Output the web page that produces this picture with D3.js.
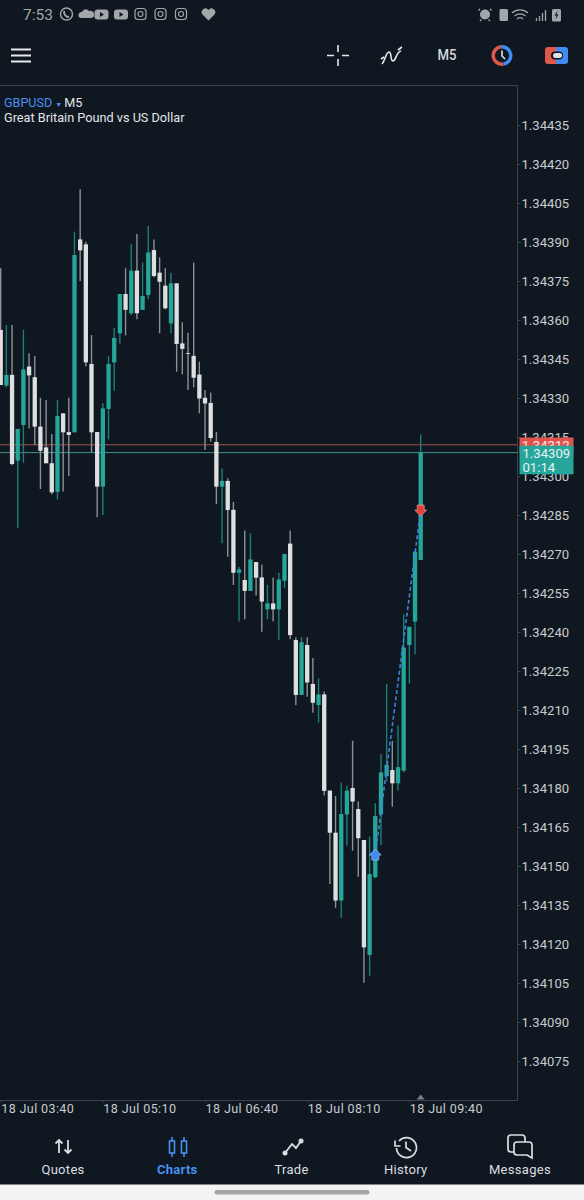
<!DOCTYPE html>
<html>
<head>
<meta charset="utf-8">
<script src="https://cdn.jsdelivr.net/npm/d3@7"></script>
<style>
  html, body { margin: 0; padding: 0; background: #0f1720; }
  svg { display: block; font-family: Roboto, sans-serif; }
</style>
</head>
<body>
<div id="chart"></div>
<script>
const symbol = 'GBPUSD';
const period = 'M5';
const symbolName = 'Great Britain Pound vs US Dollar';

const opens = [
  1.343562, 1.343348, 1.343389, 1.343059, 1.343196, 1.343421, 1.343380, 1.343190, 1.343110, 1.343049,
  1.342939, 1.343241, 1.343169, 1.343168, 1.343910, 1.343891, 1.343431, 1.343169, 1.342959, 1.343258,
  1.343437, 1.343549, 1.343700, 1.343626, 1.343790, 1.343639, 1.343696, 1.343869, 1.343782, 1.343732,
  1.343587, 1.343741, 1.343510, 1.343473, 1.343462, 1.343390, 1.343301, 1.343281, 1.343131, 1.342959,
  1.342981, 1.342870, 1.342628, 1.342600, 1.342558, 1.342669, 1.342610, 1.342487, 1.342510, 1.342487,
  1.342597, 1.342740, 1.342369, 1.342158, 1.342350, 1.342200, 1.342119, 1.342160, 1.341790, 1.341628,
  1.341367, 1.341698, 1.341800, 1.341719, 1.341600, 1.341158, 1.341457, 1.341698, 1.341846, 1.341869,
  1.341818, 1.341867, 1.342350, 1.342440, 1.342677
];
const closes = [
  1.343350, 1.343389, 1.343046, 1.343181, 1.343410, 1.343387, 1.343190, 1.343097, 1.343049, 1.342937,
  1.343231, 1.343168, 1.343158, 1.343850, 1.343868, 1.343437, 1.343168, 1.342959, 1.343260, 1.343431,
  1.343531, 1.343700, 1.343639, 1.343790, 1.343626, 1.343692, 1.343860, 1.343769, 1.343747, 1.343645,
  1.343741, 1.343508, 1.343489, 1.343470, 1.343378, 1.343298, 1.343279, 1.343146, 1.342959, 1.342981,
  1.342869, 1.342628, 1.342641, 1.342558, 1.342679, 1.342609, 1.342517, 1.342510, 1.342487, 1.342602,
  1.342700, 1.342388, 1.342158, 1.342361, 1.342206, 1.342128, 1.342160, 1.341789, 1.341628, 1.341367,
  1.341700, 1.341790, 1.341748, 1.341607, 1.341187, 1.341469, 1.341692, 1.341860, 1.341889, 1.341818,
  1.341880, 1.342340, 1.342420, 1.342709, 1.343091
];
const highs = [
  1.343799, 1.343581, 1.343581, 1.343181, 1.343562, 1.343472, 1.343462, 1.343301, 1.343292, 1.343162,
  1.343292, 1.343241, 1.343301, 1.343940, 1.344103, 1.343901, 1.343542, 1.343169, 1.343280, 1.343462,
  1.343570, 1.343700, 1.343799, 1.343891, 1.343931, 1.343821, 1.343962, 1.343910, 1.343841, 1.343799,
  1.343782, 1.343741, 1.343591, 1.343551, 1.343821, 1.343440, 1.343331, 1.343321, 1.343169, 1.343029,
  1.342991, 1.342900, 1.342651, 1.342790, 1.342780, 1.342669, 1.342660, 1.342581, 1.342610, 1.342628,
  1.342700, 1.342790, 1.342380, 1.342380, 1.342380, 1.342300, 1.342222, 1.342171, 1.341790, 1.341769,
  1.341821, 1.341809, 1.341982, 1.341748, 1.341600, 1.341613, 1.341741, 1.341931, 1.342200, 1.341981,
  1.342040, 1.342468, 1.342420, 1.342709, 1.343160
];
const lows = [
  1.343350, 1.343341, 1.343041, 1.342799, 1.343051, 1.343183, 1.343119, 1.342950, 1.343049, 1.342930,
  1.342910, 1.342940, 1.343000, 1.343168, 1.343750, 1.343421, 1.343090, 1.342841, 1.342850, 1.343141,
  1.343328, 1.343510, 1.343541, 1.343619, 1.343603, 1.343639, 1.343681, 1.343764, 1.343549, 1.343641,
  1.343549, 1.343401, 1.343391, 1.343331, 1.343341, 1.343241, 1.343100, 1.343132, 1.342892, 1.342741,
  1.342689, 1.342581, 1.342440, 1.342449, 1.342558, 1.342540, 1.342401, 1.342449, 1.342440, 1.342369,
  1.342570, 1.342372, 1.342119, 1.342158, 1.342151, 1.342089, 1.342051, 1.341771, 1.341431, 1.341339,
  1.341300, 1.341578, 1.341559, 1.341459, 1.341051, 1.341078, 1.341453, 1.341581, 1.341825, 1.341728,
  1.341790, 1.341860, 1.342202, 1.342314, 1.342677
];

const priceTicks = [
  1.34435, 1.3442, 1.34405, 1.3439, 1.34375, 1.3436, 1.34345, 1.3433, 1.34315, 1.343, 1.34285, 1.3427,
  1.34255, 1.3424, 1.34225, 1.3421, 1.34195, 1.3418, 1.34165, 1.3415, 1.34135, 1.3412, 1.34105, 1.3409, 1.34075
];
const timeTickIndex = [0, 18, 36, 54, 72];
const timeLabels = ['18 Jul 03:40', '18 Jul 05:10', '18 Jul 06:40', '18 Jul 08:10', '18 Jul 09:40'];

const bidPrice = 1.34309;
const askPrice = 1.34312;
const countdown = '01:14';
const buyTrade = { index: 66, price: 1.341542 };
const sellTrade = { index: 74, price: 1.342869 };

const navLabels = ['Quotes', 'Charts', 'Trade', 'History', 'Messages'];

const colors = {
  bg: '#0f1720',
  frame: '#3a424b',
  text: '#c9cccf',
  blue: '#4a90f0',
  up: '#26a69a',
  down: '#dedfe0',
  upWick: '#1f7f77',
  downWick: '#8d9196',
  ask: '#e0534f',
  askLine: '#a5504f',
  bidLine: '#3f908a',
};

const width = 584;
const height = 1200;
const frame = { right: 517.5, top: 85.5, bottom: 1100.5 };

const svg = d3.select('#chart').append('svg').attr('width', width).attr('height', height);
svg.append('rect').attr('width', width).attr('height', height).attr('fill', colors.bg);

const x = d3.scaleLinear().domain([0, 74]).range([0.7, 420.7]);
const y = d3.scaleLinear().domain([1.34435, 1.34075]).range([125, 1061]);

// frame
svg.append('path')
  .attr('d', `M0,${frame.top}H${frame.right}V${frame.bottom}H0`)
  .attr('fill', 'none')
  .attr('stroke', colors.frame);

// price axis
const yAxis = svg.append('g')
  .attr('transform', `translate(${frame.right},0)`)
  .call(d3.axisRight(y).tickValues(priceTicks).tickSize(3).tickPadding(1).tickFormat(d3.format('.5f')));
yAxis.select('.domain').remove();
yAxis.selectAll('line').attr('stroke', colors.frame);
yAxis.selectAll('text').attr('fill', colors.text).style('font-family', 'Roboto').style('font-size', '13.1px');

// time axis
const xAxis = svg.append('g')
  .attr('transform', `translate(0,${frame.bottom})`)
  .call(d3.axisBottom(x).tickValues(timeTickIndex).tickSize(2).tickPadding(2).tickFormat((d, i) => timeLabels[i]));
xAxis.select('.domain').remove();
xAxis.selectAll('line').attr('stroke', colors.frame);
xAxis.selectAll('text')
  .attr('fill', colors.text)
  .attr('text-anchor', 'start')
  .style('font-family', 'Roboto')
  .style('font-size', '12.5px')
  .style('letter-spacing', '0.4px');

// current time marker on the bottom edge
svg.append('path')
  .attr('d', d3.line()([[x(74) - 4, frame.bottom - 1], [x(74), frame.bottom - 6], [x(74) + 4, frame.bottom - 1]]))
  .attr('fill', '#7b8086');

// bid / ask lines
svg.append('line')
  .attr('x1', 0).attr('x2', frame.right)
  .attr('y1', y(askPrice)).attr('y2', y(askPrice))
  .attr('stroke', colors.askLine);
svg.append('line')
  .attr('x1', 0).attr('x2', frame.right)
  .attr('y1', y(bidPrice)).attr('y2', y(bidPrice))
  .attr('stroke', colors.bidLine);

// candles
const candles = svg.append('g')
  .selectAll('g')
  .data(opens.map((o, i) => ({ i, o, c: closes[i], h: highs[i], l: lows[i] })))
  .enter()
  .append('g');
candles.append('line')
  .attr('x1', (d) => x(d.i)).attr('x2', (d) => x(d.i))
  .attr('y1', (d) => y(d.h)).attr('y2', (d) => y(d.l))
  .attr('stroke', (d) => (d.c > d.o ? colors.upWick : colors.downWick))
  .attr('stroke-width', 1.4);
candles.append('rect')
  .attr('x', (d) => x(d.i) - 2.15)
  .attr('width', 4.3)
  .attr('y', (d) => y(Math.max(d.o, d.c)))
  .attr('height', (d) => Math.max(0.8, Math.abs(y(d.o) - y(d.c))))
  .attr('fill', (d) => (d.c > d.o ? colors.up : colors.down));

// trade markers
svg.append('line')
  .attr('x1', x(buyTrade.index)).attr('y1', y(buyTrade.price))
  .attr('x2', x(sellTrade.index)).attr('y2', y(sellTrade.price))
  .attr('stroke', '#3b82e0')
  .attr('stroke-width', 1.6)
  .attr('stroke-dasharray', '4 2.5');
const buyX = x(buyTrade.index);
const buyY = y(buyTrade.price);
svg.append('path')
  .attr('d', `M${buyX},${buyY - 6}L${buyX + 6},${buyY}H${buyX + 3.5}V${buyY + 5}H${buyX - 3.5}V${buyY}H${buyX - 6}Z`)
  .attr('fill', '#3f8cf5').attr('stroke', '#a9cdfa').attr('stroke-width', 0.6);
const sellX = x(sellTrade.index);
const sellY = y(sellTrade.price);
svg.append('path')
  .attr('d', `M${sellX},${sellY + 6}L${sellX + 6},${sellY}H${sellX + 3.5}V${sellY - 5}H${sellX - 3.5}V${sellY}H${sellX - 6}Z`)
  .attr('fill', '#e5403d').attr('stroke', '#f2b3b0').attr('stroke-width', 0.6);

// price tags
svg.append('rect').attr('x', 519.5).attr('y', 437.5).attr('width', 54).attr('height', 16).attr('fill', colors.ask);
svg.append('text').attr('x', 522).attr('y', y(askPrice) + 5).attr('fill', '#f5e9e9')
  .style('font-size', '13.1px').text(d3.format('.5f')(askPrice));
svg.append('rect').attr('x', 519.5).attr('y', 445.7).attr('width', 54).attr('height', 28.6).attr('fill', colors.up);
svg.append('text').attr('x', 522.5).attr('y', y(bidPrice) + 5).attr('fill', '#e8f3f2')
  .style('font-size', '13.1px').text(d3.format('.5f')(bidPrice));
svg.append('text').attr('x', 522.5).attr('y', 472).attr('fill', '#e8f3f2')
  .style('font-size', '13.1px').text(countdown);

// symbol heading
const heading = svg.append('text').attr('x', 4).attr('y', 107).style('font-size', '12.6px');
heading.append('tspan').attr('fill', colors.blue).text(symbol);
heading.append('tspan').attr('fill', colors.blue).attr('dx', 3).style('font-size', '7px').text('▼');
heading.append('tspan').attr('fill', '#e4e6e8').attr('dx', 2).text(period);
svg.append('text').attr('x', 4).attr('y', 122).attr('fill', '#e4e6e8').style('font-size', '12.7px').text(symbolName);

// status bar
const statusGrey = '#a4a7aa';
svg.append('text').attr('x', 23).attr('y', 20).attr('fill', statusGrey).style('font-size', '15.5px').text('7:53');
const statusIcons = svg.append('g').attr('fill', statusGrey).attr('stroke', statusGrey);
statusIcons.append('circle').attr('cx', 66.5).attr('cy', 14).attr('r', 6).attr('fill', 'none').attr('stroke-width', 1.4);
statusIcons.append('path').attr('d', 'M64,11c0,4 2,6 5,6').attr('fill', 'none').attr('stroke-width', 1.8);
statusIcons.append('path').attr('d', 'M81,18a3,3 0 0 1 1,-6a4,4 0 0 1 7,-1a4,3.5 0 0 1 2,7Z').attr('stroke', 'none');
[101, 120.5].forEach((cx) => {
  statusIcons.append('rect').attr('x', cx - 6.5).attr('y', 9.5).attr('width', 14).attr('height', 10).attr('rx', 3).attr('stroke', 'none');
  statusIcons.append('path').attr('d', `M${cx - 1},12v5l4,-2.5Z`).attr('fill', colors.bg).attr('stroke', 'none');
});
[140.5, 160.5, 181].forEach((cx) => {
  statusIcons.append('rect').attr('x', cx - 5.5).attr('y', 8.5).attr('width', 11).attr('height', 11).attr('rx', 3).attr('fill', 'none').attr('stroke-width', 1.2);
  statusIcons.append('circle').attr('cx', cx).attr('cy', 14).attr('r', 2.5).attr('fill', 'none').attr('stroke-width', 1.1);
});
statusIcons.append('path').attr('d', 'M208.5,20.5l-6,-6a3.6,3.6 0 0 1 6,-4.5a3.6,3.6 0 0 1 6,4.5Z').attr('stroke', 'none');

// alarm, saver, wifi, signal, battery
statusIcons.append('circle').attr('cx', 485).attr('cy', 14.5).attr('r', 5).attr('stroke', 'none');
statusIcons.append('path').attr('d', 'M480,9l-1.5,1.5M490,9l1.5,1.5M481.5,19.5l-1.5,1.5M488.5,19.5l1.5,1.5').attr('stroke-width', 1.4);
statusIcons.append('rect').attr('x', 499.5).attr('y', 9).attr('width', 8.5).attr('height', 12).attr('rx', 1.5).attr('stroke', 'none');
statusIcons.append('path').attr('d', 'M512,13a12,12 0 0 1 16,0M514.5,16a8,8 0 0 1 11,0M517,19a4,4 0 0 1 6,0').attr('fill', 'none').attr('stroke-width', 1.2);
statusIcons.append('path').attr('d', 'M536.5,21v-3M539.5,21v-5M542.5,21v-8M545.5,21v-11').attr('fill', 'none').attr('stroke-width', 1.3);
statusIcons.append('rect').attr('x', 552).attr('y', 9).attr('width', 9).attr('height', 12.5).attr('rx', 1.5).attr('stroke', 'none');
statusIcons.append('path').attr('d', 'M557.5,10.5l-3,5h2l-1,4l3,-5h-2Z').attr('fill', colors.bg).attr('stroke', 'none');

// toolbar
const toolbar = svg.append('g').attr('stroke', '#e6e8ea').attr('fill', 'none').attr('stroke-width', 2);
toolbar.append('path').attr('d', 'M11,49.5H31M11,55.5H31M11,61.5H31');
toolbar.append('path').attr('d', 'M327,55.5H334M342,55.5H349M338,45V52M338,59V66').attr('stroke-width', 1.6);
toolbar.append('path').attr('d', 'M382,64c3,-3 4,-12 7,-12c3,0 1,9 4,9c3,0 3,-9 8,-10M381,59l3,-2M398,50l4,-3').attr('stroke-width', 1.6);
svg.append('text').attr('x', 447).attr('y', 60).attr('text-anchor', 'middle').attr('fill', '#d5d7da')
  .style('font-size', '14.5px').style('font-weight', 500).attr('textLength', 19).attr('lengthAdjust', 'spacingAndGlyphs').text(period);
const clockArc = d3.arc().innerRadius(7).outerRadius(10.5);
svg.append('path').attr('transform', 'translate(502,55.5)')
  .attr('d', clockArc({ startAngle: -3.3, endAngle: -0.1 })).attr('fill', '#e0584c');
svg.append('path').attr('transform', 'translate(502,55.5)')
  .attr('d', clockArc({ startAngle: -0.1, endAngle: 2.98 })).attr('fill', '#3f8cf5');
svg.append('path').attr('d', 'M502,50.5V56L505,59').attr('stroke', '#e6e8ea').attr('stroke-width', 1.6).attr('fill', 'none');
svg.append('path').attr('d', 'M556,47H548a3,3 0 0 0 -3,3V61a3,3 0 0 0 3,3H556Z').attr('fill', '#e0584c');
svg.append('path').attr('d', 'M556,47H565a3,3 0 0 1 3,3V61a3,3 0 0 1 -3,3H556Z').attr('fill', '#3f8cf5');
svg.append('rect').attr('x', 551).attr('y', 51.5).attr('width', 12).attr('height', 8).attr('rx', 4).attr('fill', colors.bg);
svg.append('rect').attr('x', 553).attr('y', 53).attr('width', 9).attr('height', 5).attr('rx', 2.5).attr('fill', '#dfe1e3');

// bottom navigation
const navX = d3.scalePoint().domain(navLabels).range([63, 520]);
svg.append('g').selectAll('text')
  .data(navLabels)
  .enter()
  .append('text')
  .attr('x', (d) => navX(d))
  .attr('y', 1174)
  .attr('text-anchor', 'middle')
  .attr('fill', (d) => (d === 'Charts' ? colors.blue : '#dcdee0'))
  .style('font-size', '13px')
  .style('font-weight', (d) => (d === 'Charts' ? 700 : 400))
  .style('letter-spacing', '0.3px')
  .text((d) => d);

const navIcons = svg.append('g').attr('fill', 'none').attr('stroke', '#dcdee0').attr('stroke-width', 1.8);
navIcons.append('path').attr('d', 'M59,1153V1140M55.5,1143.5L59,1140L62.5,1143.5M68,1140V1153M64.5,1149.5L68,1153L71.5,1149.5');
navIcons.append('g').attr('stroke', colors.blue).attr('stroke-width', 1.6).call((g) => {
  [172, 184].forEach((cx) => {
    g.append('path').attr('d', `M${cx},1137V1141M${cx},1153V1157`);
    g.append('rect').attr('x', cx - 2.5).attr('y', 1141).attr('width', 5).attr('height', 12);
  });
});
navIcons.append('path').attr('d', 'M285,1153L292,1144L296,1148L301,1141');
navIcons.selectAll('circle.pt').data([[285, 1153], [301, 1141]]).enter().append('circle')
  .attr('cx', (d) => d[0]).attr('cy', (d) => d[1]).attr('r', 2.5).attr('fill', '#dcdee0').attr('stroke', 'none');
navIcons.append('path').attr('d', 'M399,1141a10,10 0 1 1 -2.5,7M395,1140.5V1146H400.5M406,1141.5V1147.5L411,1151').attr('stroke-width', 1.7);
navIcons.append('path').attr('d', 'M525,1142V1138a3,3 0 0 0 -3,-3H511a3,3 0 0 0 -3,3V1149a3,3 0 0 0 3,3H514M517,1142H529a3,3 0 0 1 3,3V1158L527,1155H517a3,3 0 0 1 -3,-3V1145a3,3 0 0 1 3,-3Z').attr('stroke-width', 1.7);

// gesture bar
svg.append('rect').attr('x', 0).attr('y', 1184.5).attr('width', width).attr('height', 15.5).attr('fill', '#f3f3f3');
svg.append('rect').attr('x', 214.5).attr('y', 1190).attr('width', 155).attr('height', 4.5).attr('rx', 2.25).attr('fill', '#a5a5a5');
</script>
</body>
</html>
